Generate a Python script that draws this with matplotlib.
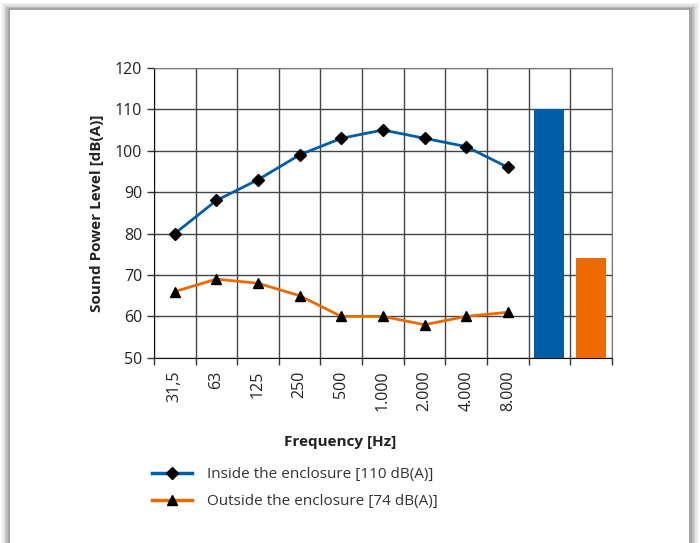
import matplotlib.pyplot as plt
from matplotlib.patches import Rectangle
from matplotlib.lines import Line2D

# Data
freq_labels = ["31,5", "63", "125", "250", "500", "1.000", "2.000", "4.000", "8.000"]
inside_levels = [80, 88, 93, 99, 103, 105, 103, 101, 96]
outside_levels = [66, 69, 68, 65, 60, 60, 58, 60, 61]
total_labels = ["Inside the enclosure [110 dB(A)]", "Outside the enclosure [74 dB(A)]"]
total_levels = [110, 74]

BLUE = "#005DA8"
ORANGE = "#EE6A00"

plt.rcParams["font.family"] = ["Open Sans", "DejaVu Sans"]

fig = plt.figure(figsize=(7, 5.43), dpi=100, facecolor="white")

# card with a soft shadow
for i, a in enumerate([0.05, 0.06, 0.08, 0.10, 0.12]):
    off = (5 - i) * 0.0025
    fig.patches.append(Rectangle((0.014 - off, -0.1), 0.972 + 2 * off, 1.082 + off,
                                 transform=fig.transFigure, facecolor="black",
                                 alpha=a, edgecolor="none", zorder=0))
fig.patches.append(Rectangle((0.014, -0.1), 0.970, 1.082, transform=fig.transFigure,
                             facecolor="white", edgecolor="none", zorder=1))

ax = fig.add_axes([0.22, 0.341, 0.654, 0.534])
ax.set_zorder(2)

n = len(freq_labels)
x = list(range(n))
ax.plot(x, inside_levels, color=BLUE, lw=2, marker="D", ms=6,
        mfc="black", mec="black", zorder=3)
ax.plot(x, outside_levels, color=ORANGE, lw=2, marker="^", ms=7,
        mfc="black", mec="black", zorder=3)
ax.bar([n, n + 1], total_levels, width=0.72, color=[BLUE, ORANGE], zorder=3)

ax.set_xlim(-0.5, n + 1.5)
ax.set_ylim(50, 120)
ax.set_yticks(range(50, 121, 10))

# category labels at column centres, ticks/grid at column boundaries
ax.set_xticks(x)
ax.set_xticklabels(freq_labels, rotation=90, fontsize=11.5, color="#222222")
ax.tick_params(axis="x", which="major", length=0, pad=9)
bounds = [i - 0.5 for i in range(n + 3)]
ax.set_xticks(bounds, minor=True)
ax.tick_params(axis="x", which="minor", length=5, width=1, color="#333333",
               direction="out")
ax.tick_params(axis="y", length=5, width=1, color="#333333", labelsize=11.5,
               labelcolor="#222222")

ax.grid(True, which="minor", axis="x", color="#444444", lw=1)
ax.grid(True, which="major", axis="y", color="#444444", lw=1)
ax.set_axisbelow(True)
for side in ["top", "right"]:
    ax.spines[side].set_color("#777777")
for side in ["left", "bottom"]:
    ax.spines[side].set_color("#111111")

ax.set_ylabel("Sound Power Level [dB(A)]", fontsize=11, fontweight="bold",
              color="#222222", labelpad=8)
ax.set_xlabel("Frequency [Hz]", fontsize=11, fontweight="bold", color="#222222")
ax.xaxis.set_label_coords(0.406, -0.265)

handles = [
    Line2D([], [], color=BLUE, lw=2.5, marker="D", ms=6, mfc="black", mec="black"),
    Line2D([], [], color=ORANGE, lw=2.5, marker="^", ms=7, mfc="black", mec="black"),
]
leg = fig.legend(handles, total_labels, loc="upper left",
                 bbox_to_anchor=(0.198, 0.165), frameon=False, fontsize=11,
                 handlelength=2.6, labelspacing=0.8, handletextpad=1.0,
                 labelcolor="#333333")
leg.set_zorder(3)

fig.savefig("out.png", dpi=100, facecolor=fig.get_facecolor())
